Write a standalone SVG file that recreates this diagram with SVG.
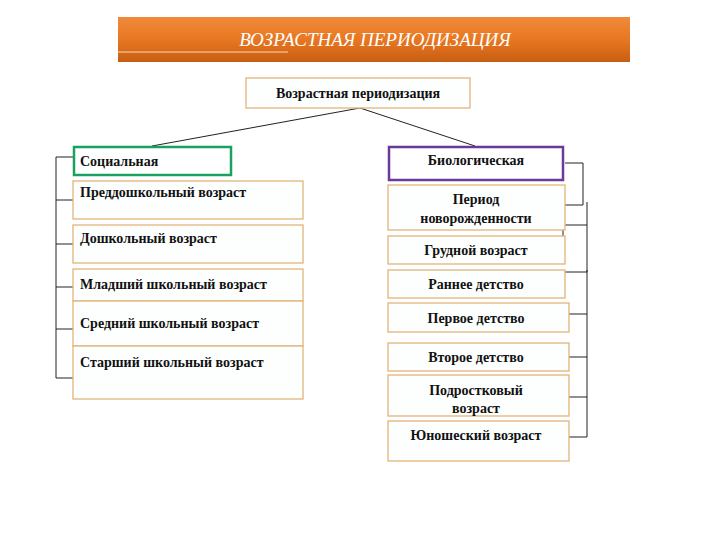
<svg xmlns="http://www.w3.org/2000/svg" width="720" height="540" viewBox="0 0 720 540">
<defs>
<linearGradient id="og" x1="0" y1="0" x2="0" y2="1">
<stop offset="0" stop-color="#f08a3a"/><stop offset="0.5" stop-color="#e87722"/><stop offset="1" stop-color="#c85e12"/>
</linearGradient>
</defs>
<style>
.b{fill:#fdfefe;stroke:#e2b47a;stroke-width:1.3}
.t{font-family:"Liberation Serif",serif;font-weight:bold;font-size:14px;fill:#111}
.c{stroke:#222;stroke-width:1;fill:none}
</style>
<rect width="720" height="540" fill="#fff"/>
<g id="header">
<rect x="118" y="17" width="512" height="45" fill="url(#og)"/>
<line x1="118" y1="52" x2="288" y2="52" stroke="#f6d9b8" stroke-width="1"/>
<text x="375" y="46" text-anchor="middle" font-family="Liberation Serif,serif" font-style="italic" font-size="19" fill="#fff">ВОЗРАСТНАЯ ПЕРИОДИЗАЦИЯ</text>
</g>
<g id="connectors" class="c">
<path class="c" d="M360 108 L152 146 M360 108 L475 146"/>
<path class="c" d="M73 157 H56 V378 H73 M56 200 H73 M56 244 H73 M56 287 H73 M56 329 H73"/>
<path class="c" d="M565 163 H583 V205 H565"/>
<path class="c" d="M587 202 V272 H565 M563 247 V225 H587"/>
<path class="c" d="M587 270 V437 H569 M569 314 H587 M569 357 H587 M569 397 H587"/>
</g>
<g id="root"><rect class="b" x="246" y="78" width="224" height="30"/><text class="t" x="358" y="98" text-anchor="middle">Возрастная периодизация</text></g>
<g id="social"><rect x="74" y="147" width="157" height="28" fill="#fff" stroke="#1aa060" stroke-width="2.5"/><text class="t" x="80" y="166">Социальная</text></g>
<g id="s1"><rect class="b" x="73" y="181" width="230" height="38"/><text class="t" x="80" y="197">Преддошкольный возраст</text></g>
<g id="s2"><rect class="b" x="73" y="225" width="230" height="38"/><text class="t" x="80" y="243">Дошкольный возраст</text></g>
<g id="s3"><rect class="b" x="73" y="269" width="230" height="32"/><text class="t" x="80" y="289">Младший школьный возраст</text></g>
<g id="s4"><rect class="b" x="73" y="301" width="230" height="45"/><text class="t" x="80" y="328">Средний школьный возраст</text></g>
<g id="s5"><rect class="b" x="73" y="346" width="230" height="53"/><text class="t" x="80" y="367">Старший школьный возраст</text></g>
<g id="bio"><rect x="389" y="147" width="174" height="33" fill="#fff" stroke="#6a3a9a" stroke-width="2.5"/><text class="t" x="476" y="165" text-anchor="middle">Биологическая</text></g>
<g id="b1"><rect class="b" x="388" y="185" width="177" height="45"/><text class="t" x="476" y="204" text-anchor="middle">Период</text><text class="t" x="476" y="223" text-anchor="middle">новорожденности</text></g>
<g id="b2"><rect class="b" x="388" y="236" width="177" height="28"/><text class="t" x="476" y="255" text-anchor="middle">Грудной возраст</text></g>
<g id="b3"><rect class="b" x="388" y="270" width="177" height="28"/><text class="t" x="476" y="289" text-anchor="middle">Раннее детство</text></g>
<g id="b4"><rect class="b" x="388" y="303" width="181" height="29"/><text class="t" x="476" y="323" text-anchor="middle">Первое детство</text></g>
<g id="b5"><rect class="b" x="388" y="343" width="181" height="28"/><text class="t" x="476" y="362" text-anchor="middle">Второе детство</text></g>
<g id="b6"><rect class="b" x="388" y="375" width="181" height="41"/><text class="t" x="476" y="395" text-anchor="middle">Подростковый</text><text class="t" x="476" y="413" text-anchor="middle">возраст</text></g>
<g id="b7"><rect class="b" x="388" y="421" width="181" height="40"/><text class="t" x="476" y="440" text-anchor="middle">Юношеский возраст</text></g>
</svg>
